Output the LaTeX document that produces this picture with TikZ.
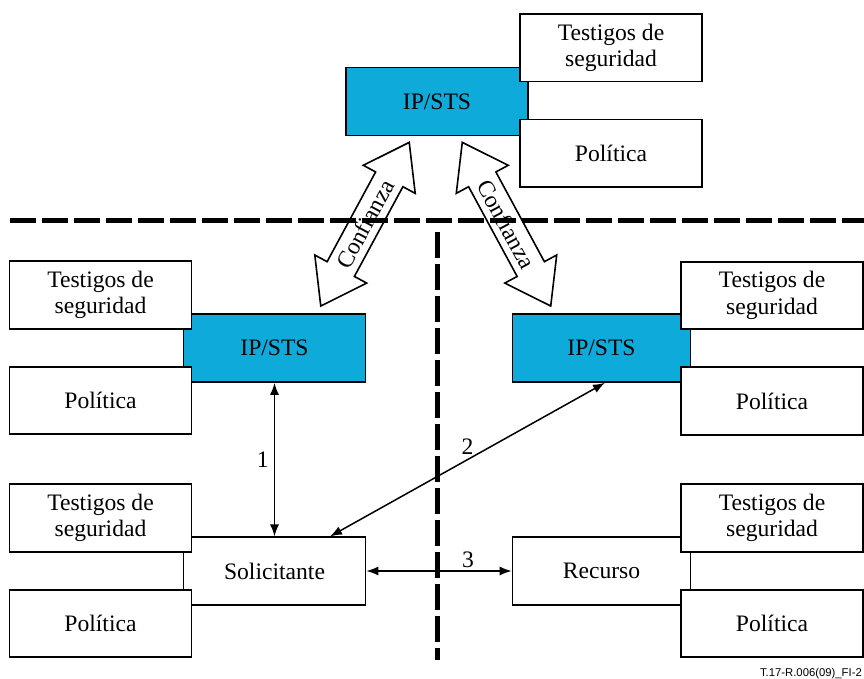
\documentclass[tikz,border=0pt]{standalone}
\usepackage{fontspec}
\setmainfont{Liberation Serif}
\newfontfamily\figreffont{Liberation Sans}
\usetikzlibrary{arrows.meta}
\definecolor{stsblue}{RGB}{14,171,218}

\begin{document}
\begin{tikzpicture}[x=1pt, y=-1pt, >={Latex[length=12pt,width=9pt]},
        box/.style={draw, line width=1.6pt, fill=white, minimum width=182pt, minimum height=67.5pt,
            inner sep=0pt, align=center, font=\fontsize{23.6}{26.7}\selectfont},
        stsbox/.style={box, fill=stsblue, minimum height=68pt},
        link/.style={<->, line width=1.5pt},
        num/.style={inner sep=3pt, font=\fontsize{23.6}{26.7}\selectfont},
        sep/.style={line width=5pt, dash pattern=on 26pt off 6pt},
        trust/.style={draw, fill=white, line width=1.6pt, line join=miter}]
        \useasboundingbox (0,0) rectangle (864,679);

        % main boxes
        \node[stsbox] (ip-top) at (437,101.5) {IP/STS};
        \node[stsbox] (ip-left) at (274.5,348) {IP/STS};
        \node[stsbox, minimum width=178pt] (ip-right) at (601.5,348) {IP/STS};
        \node[box] (solicitante) at (274.5,571) {Solicitante};
        \node[box, minimum width=178pt] (recurso) at (601.5,571) {Recurso};

        % tokens and policy beside each box
        \foreach \name/\x/\y in {top/611/47.75, left/100.5/295, right/772/295.5, sol/100.5/518, rec/772/518} {
            \node[box] (tok-\name) at (\x,\y) {Testigos de\\seguridad};
            \node[box] (pol-\name) at (\x,\y+105.5) {Política};
        }

        % trust arrows
        \foreach \name/\x/\ang in {left/365/61.6, right/506.5/-61.6} {
            \begin{scope}[shift={(\x,224.2)}, rotate=\ang]
                \draw[trust] (-93,0) -- (-51,29.5) -- (-51,15.5) -- (51,15.5) -- (51,29.5) -- (93,0)
                    -- (51,-29.5) -- (51,-15.5) -- (-51,-15.5) -- (-51,-29.5) -- cycle;
                \node[num, rotate=\ang] (trust-\name) at (0,0) {Confianza};
            \end{scope}
        }

        % separators
        \draw[sep] (10,220) -- (864,220);
        \draw[sep] (437,232) -- (437,660);

        % exchanges
        \draw[link] (ip-left) -- (solicitante) node[num, midway, left=2pt] (n1) {1};
        \draw[link] ([xshift=3.5pt]ip-right.south) -- ([xshift=55.5pt]solicitante.north)
            node[num, midway, above=1pt] (n2) {2};
        \draw[link] (solicitante) -- (recurso) node[num, pos=0.7, above] (n3) {3};

        \node[anchor=base east, inner sep=0pt, font=\figreffont\fontsize{11.3}{13}\selectfont]
            (figref) at (862,676) {T.17-R.006(09)\_FI-2};
    \end{tikzpicture}
\end{document}
